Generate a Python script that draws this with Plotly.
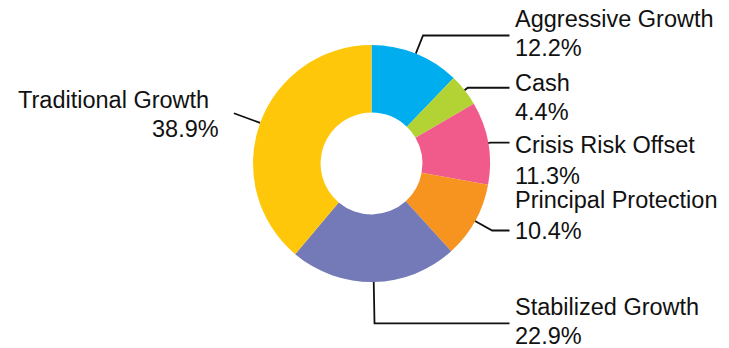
import math
import plotly.graph_objects as go

# Portfolio allocation (percent)
categories = ["Aggressive Growth", "Cash", "Crisis Risk Offset",
              "Principal Protection", "Stabilized Growth", "Traditional Growth"]
shares = [12.2, 4.4, 11.3, 10.4, 22.9, 38.9]
share_labels = ["12.2%", "4.4%", "11.3%", "10.4%", "22.9%", "38.9%"]
colors = ["#00AEEF", "#B3D234", "#F05B8B", "#F7941F", "#7479B8", "#FFC709"]

W, H = 729, 348
CX, CY, R = 371.5, 163.5, 118.5   # donut centre and outer radius (px)
HOLE = 0.43

# leader-line geometry per slice: start radius, elbow radius, horizontal end x (None = no tail)
leaders = [
    (118.5, 138.0, 509.5),
    (99.0, 122.5, 509.5),
    (99.0, 121.0, 509.5),
    (100.0, 138.0, 509.5),
    (118.5, 160.0, 509.5),
    (118.5, 146.5, None),
]

# text placement: (name x, name y, pct x, pct y, anchor)
label_pos = [
    (513, 18.5, 513, 48.4, "left"),
    (513, 82.8, 513, 111.5, "left"),
    (513, 145.3, 513, 175.8, "left"),
    (513, 199.5, 513, 230.8, "left"),
    (513, 307.0, 513, 336.0, "left"),
    (211, 99.5, 221, 129.2, "right"),
]

fig = go.Figure()

fig.add_trace(go.Pie(
    labels=categories, values=shares, sort=False, direction="clockwise",
    rotation=0, hole=HOLE, textinfo="none", hoverinfo="label+percent",
    marker=dict(colors=colors, line=dict(width=0)),
    domain=dict(x=[(CX - R) / W, (CX + R) / W],
                y=[(H - CY - R) / H, (H - CY + R) / H]),
    showlegend=False,
))

# leader lines from each slice's mid angle
total = sum(shares)
cum = 0.0
for val, (r0, r1, xend) in zip(shares, leaders):
    mid = (cum + val / 2) / total * 2 * math.pi
    cum += val
    sx, sy = CX + r0 * math.sin(mid), CY - r0 * math.cos(mid)
    ex, ey = CX + r1 * math.sin(mid), CY - r1 * math.cos(mid)
    xs, ys = [sx, ex], [sy, ey]
    if xend is not None:
        xs.append(xend)
        ys.append(ey)
    fig.add_trace(go.Scatter(x=xs, y=ys, mode="lines",
                             line=dict(color="#111111", width=1.8),
                             hoverinfo="skip", showlegend=False))

font = dict(family="Liberation Sans, Arial, sans-serif", size=23.5, color="#111111")
for name, pct, (nx, ny, px, py, anc) in zip(categories, share_labels, label_pos):
    fig.add_annotation(x=nx, y=ny, text=name, showarrow=False, xanchor=anc,
                       yanchor="middle", font=font, xref="x", yref="y")
    fig.add_annotation(x=px, y=py, text=pct, showarrow=False, xanchor=anc,
                       yanchor="middle", font=font, xref="x", yref="y")

fig.update_layout(
    width=W, height=H, margin=dict(l=0, r=0, t=0, b=0),
    paper_bgcolor="white", plot_bgcolor="rgba(0,0,0,0)",
    xaxis=dict(range=[0, W], visible=False, fixedrange=True),
    yaxis=dict(range=[H, 0], visible=False, fixedrange=True),
)

fig.write_html("out.html")
